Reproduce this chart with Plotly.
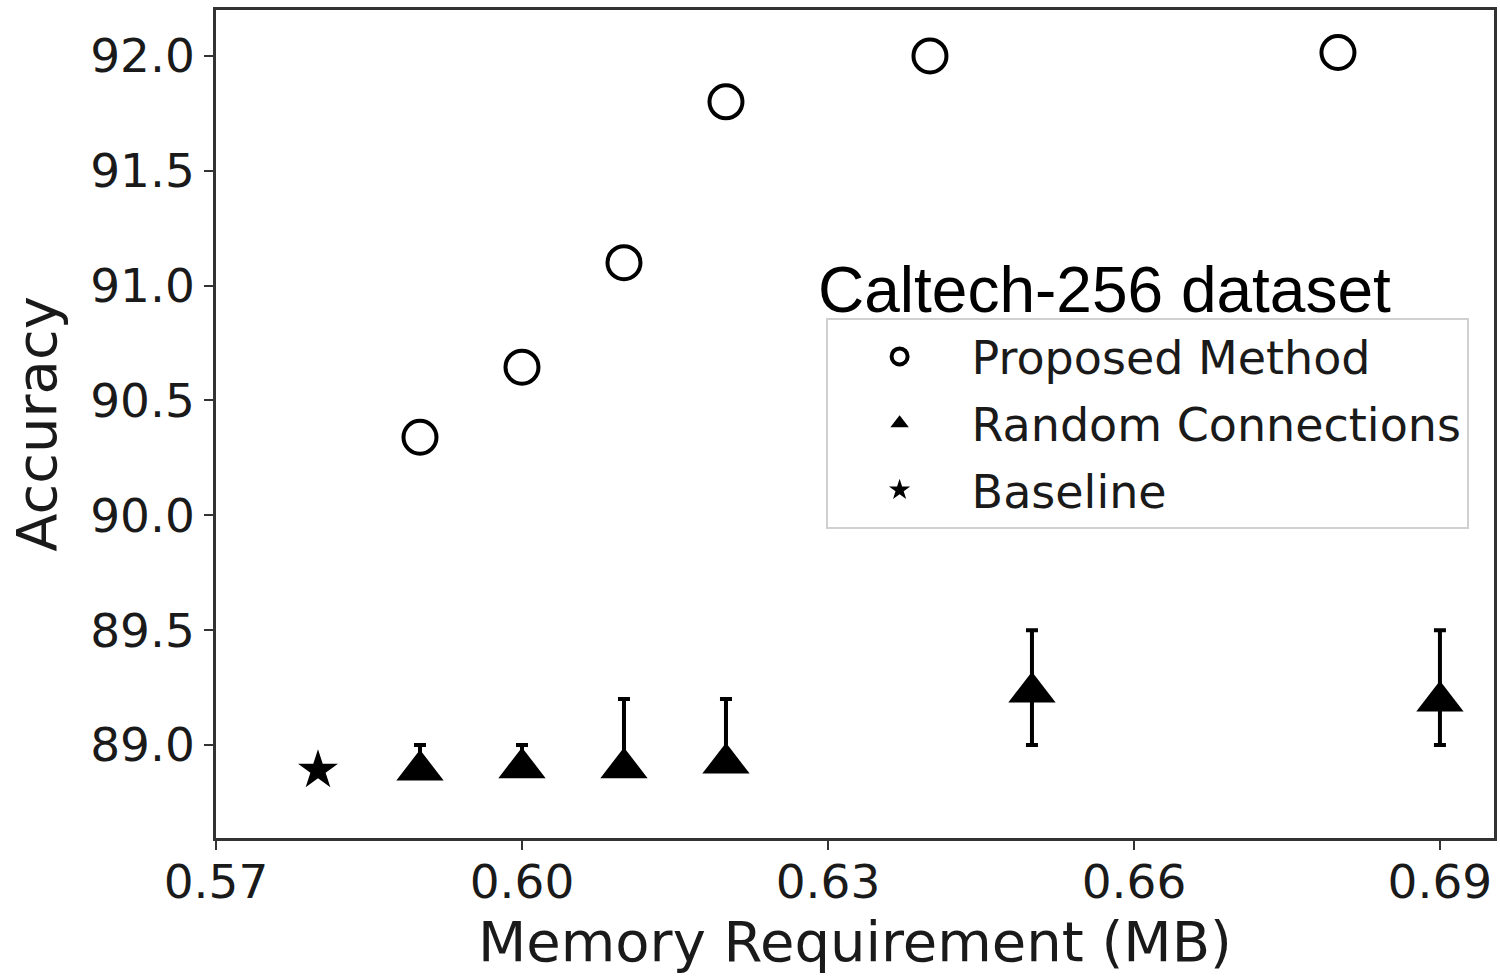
import plotly.graph_objects as go

# Data
proposed_x = [0.59, 0.60, 0.61, 0.62, 0.64, 0.68]
proposed_y = [90.34, 90.645, 91.1, 91.8, 92.0, 92.015]

random_x = [0.59, 0.60, 0.61, 0.62, 0.65, 0.69]
random_y = [88.89, 88.90, 88.90, 88.92, 89.23, 89.19]
random_err_plus = [0.11, 0.10, 0.30, 0.28, 0.27, 0.31]
random_err_minus = [0.02, 0.02, 0.02, 0.02, 0.23, 0.19]

baseline_x = [0.58]
baseline_y = [88.89]

x_ticks = [0.57, 0.60, 0.63, 0.66, 0.69]
x_tick_labels = ["0.57", "0.60", "0.63", "0.66", "0.69"]
y_ticks = [89.0, 89.5, 90.0, 90.5, 91.0, 91.5, 92.0]
y_tick_labels = ["89.0", "89.5", "90.0", "90.5", "91.0", "91.5", "92.0"]

fig = go.Figure()

fig.add_trace(go.Scatter(
    x=proposed_x, y=proposed_y, mode="markers", name="Proposed Method", legendgroup="a",
    marker=dict(symbol="circle-open", size=33, color="black", line=dict(width=4, color="black")),
))
fig.add_trace(go.Scatter(
    x=random_x, y=random_y, mode="markers", name="Random Connections", legendgroup="b",
    marker=dict(symbol="triangle-up", size=41, color="black"),
    error_y=dict(type="data", symmetric=False, array=random_err_plus,
                 arrayminus=random_err_minus, color="black", thickness=4, width=6),
))
fig.add_trace(go.Scatter(
    x=baseline_x, y=baseline_y, mode="markers", name="Baseline", legendgroup="c",
    marker=dict(symbol="star", size=30, color="black"),
))

axis_font = dict(family="DejaVu Sans", size=47, color="#1a1a1a")

fig.update_layout(
    width=1500, height=977,
    margin=dict(l=216, r=6, t=10, b=139),
    paper_bgcolor="white", plot_bgcolor="white",
    font=dict(family="DejaVu Sans", color="#1a1a1a"),
    showlegend=True,
    legend=dict(
        x=0.477, y=0.628, xanchor="left", yanchor="top",
        font=dict(family="DejaVu Sans", size=46, color="#1a1a1a"),
        bgcolor="rgba(255,255,255,0.8)", bordercolor="#d0d0d0", borderwidth=2,
        itemwidth=134, tracegroupgap=4,
    ),
    annotations=[dict(
        text="Caltech-256 dataset", xref="paper", yref="paper",
        x=0.695, y=0.662, xanchor="center", yanchor="middle", showarrow=False,
        font=dict(family="Liberation Sans, Arial", size=64, color="black"),
    )],
)

fig.update_xaxes(
    range=[0.57, 0.6953], tickmode="array", tickvals=x_ticks, ticktext=x_tick_labels,
    tickfont=axis_font, ticks="outside", ticklen=9, tickwidth=2, tickcolor="#333",
    showline=True, linecolor="#333", linewidth=2.5, mirror=True,
    showgrid=False, zeroline=False, automargin=False, ticklabelstandoff=-8,
    title=dict(text="Memory Requirement (MB)", font=dict(family="DejaVu Sans", size=56, color="#1a1a1a"), standoff=0),
)
fig.update_yaxes(
    range=[88.595, 92.2], tickmode="array", tickvals=y_ticks, ticktext=y_tick_labels,
    tickfont=axis_font, ticks="outside", ticklen=9, tickwidth=2, tickcolor="#333",
    showline=True, linecolor="#333", linewidth=2.5, mirror=True,
    showgrid=False, zeroline=False, automargin=False,
    title=dict(text="Accuracy", font=dict(family="DejaVu Sans", size=56, color="#1a1a1a"), standoff=16),
)

fig.write_html("out.html", config={"displayModeBar": False},
               post_script="document.body.style.margin='0px';")
